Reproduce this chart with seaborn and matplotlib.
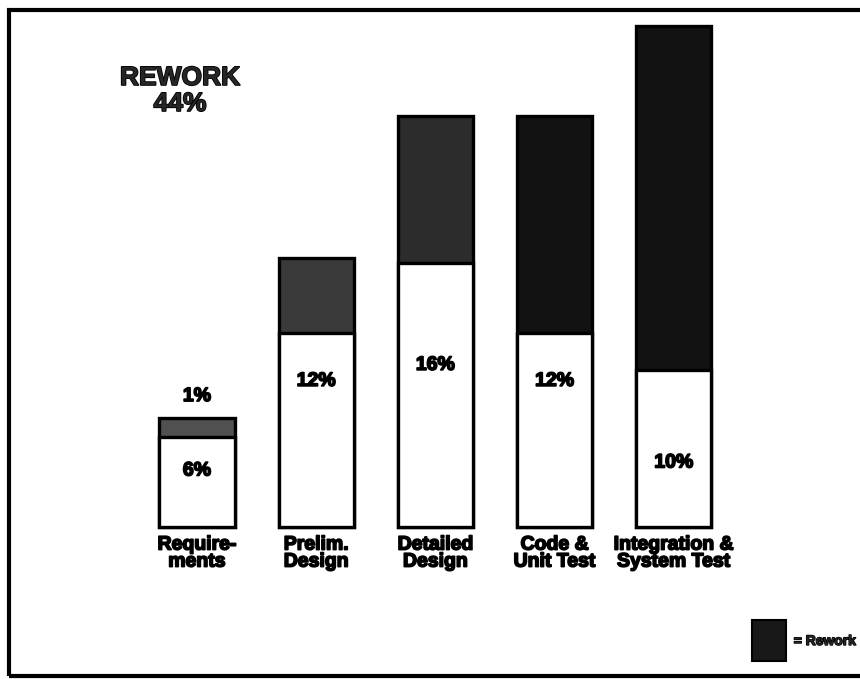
import matplotlib
matplotlib.use("Agg")
import matplotlib.pyplot as plt
import matplotlib.patheffects as pe
from matplotlib.patches import Rectangle
import seaborn as sns
import pandas as pd

# ---- data ----
categories = ["Requirements", "Prelim. Design", "Detailed Design",
              "Code & Unit Test", "Integration & System Test"]
tick_labels = ["Require-\nments", "Prelim.\nDesign", "Detailed\nDesign",
               "Code &\nUnit Test", "Integration &\nSystem Test"]
base_pct = [5.6, 12.1, 16.5, 12.1, 9.8]     # drawn heights of new-work part
rework_pct = [1.2, 4.7, 9.2, 13.6, 21.5]    # drawn heights of rework part
base_labels = ["6%", "12%", "16%", "12%", "10%"]
rework_labels = ["1%", "", "", "", ""]
title_lines = ["REWORK", "44%"]

df = pd.DataFrame({"phase": categories, "base": base_pct,
                   "rework": rework_pct})
df["total"] = df["base"] + df["rework"]

sns.set_theme(style="white")
plt.rcParams["font.family"] = ["Liberation Sans", "DejaVu Sans"]

W, H = 860, 679
fig = plt.figure(figsize=(W / 100, H / 100), dpi=100)
fig.patch.set_facecolor("white")
ax = fig.add_axes([0, 0, 1, 1])

px_per_cat = 119.2
x0 = 197.0
ppu = 16.0
base_px = H - 527

rework_colors = ["#505050", "#3a3a3a", "#2c2c2c", "#121212", "#121212"]
sns.barplot(data=df, x="phase", y="total", hue="phase",
            palette=rework_colors, legend=False, ax=ax, width=0.63,
            edgecolor="black", linewidth=2.4, saturation=1)
sns.barplot(data=df, x="phase", y="base", color="white", ax=ax,
            width=0.63, edgecolor="black", linewidth=2.4, saturation=1)
ax.set_xlim(-x0 / px_per_cat, (W - x0) / px_per_cat)
ax.set_ylim(-base_px / ppu, (H - base_px) / ppu)
ax.axis("off")

heavy = [pe.withStroke(linewidth=1.2, foreground="black")]

# value labels inside the white part (vertical spot)
label_y = [3.5, 9.1, 10.1, 9.1, 4.0]
for i, lab in enumerate(base_labels):
    ax.text(i, label_y[i], lab, ha="center", va="center",
            fontsize=14, fontweight="bold", color="black",
            path_effects=heavy)
for i, (b, r, lab) in enumerate(zip(base_pct, rework_pct, rework_labels)):
    if lab:
        ax.text(i, b + r + 1.35, lab, ha="center", va="center",
                fontsize=14, fontweight="bold", color="black",
                path_effects=heavy)

# category labels beneath bars
for i, lab in enumerate(tick_labels):
    ax.text(i, -0.6, lab, ha="center", va="top", fontsize=14,
            fontweight="bold", linespacing=1.0, color="black",
            path_effects=heavy)

# title
fig.text(180 / W, 1 - 78 / H, title_lines[0], ha="center", va="center",
         fontsize=19, fontweight="bold", path_effects=heavy)
fig.text(180 / W, 1 - 104 / H, title_lines[1], ha="center", va="center",
         fontsize=19, fontweight="bold", path_effects=heavy)

# legend swatch
fig.patches.append(Rectangle((752 / W, 1 - 661 / H), 34 / W, 41 / H,
                             transform=fig.transFigure, facecolor="#181818",
                             edgecolor="black", linewidth=1.5))
fig.text(856 / W, 1 - 641 / H, "= Rework", ha="right", va="center",
         fontsize=10, fontweight="bold",
         path_effects=[pe.withStroke(linewidth=1.0, foreground="black")])

# outer frame (right side runs off the image)
fig.patches.append(Rectangle((9 / W, 1 - 676 / H), 900 / W, 666 / H,
                             transform=fig.transFigure, facecolor="none",
                             edgecolor="black", linewidth=3))

fig.savefig("out.png", dpi=100, facecolor="white")
